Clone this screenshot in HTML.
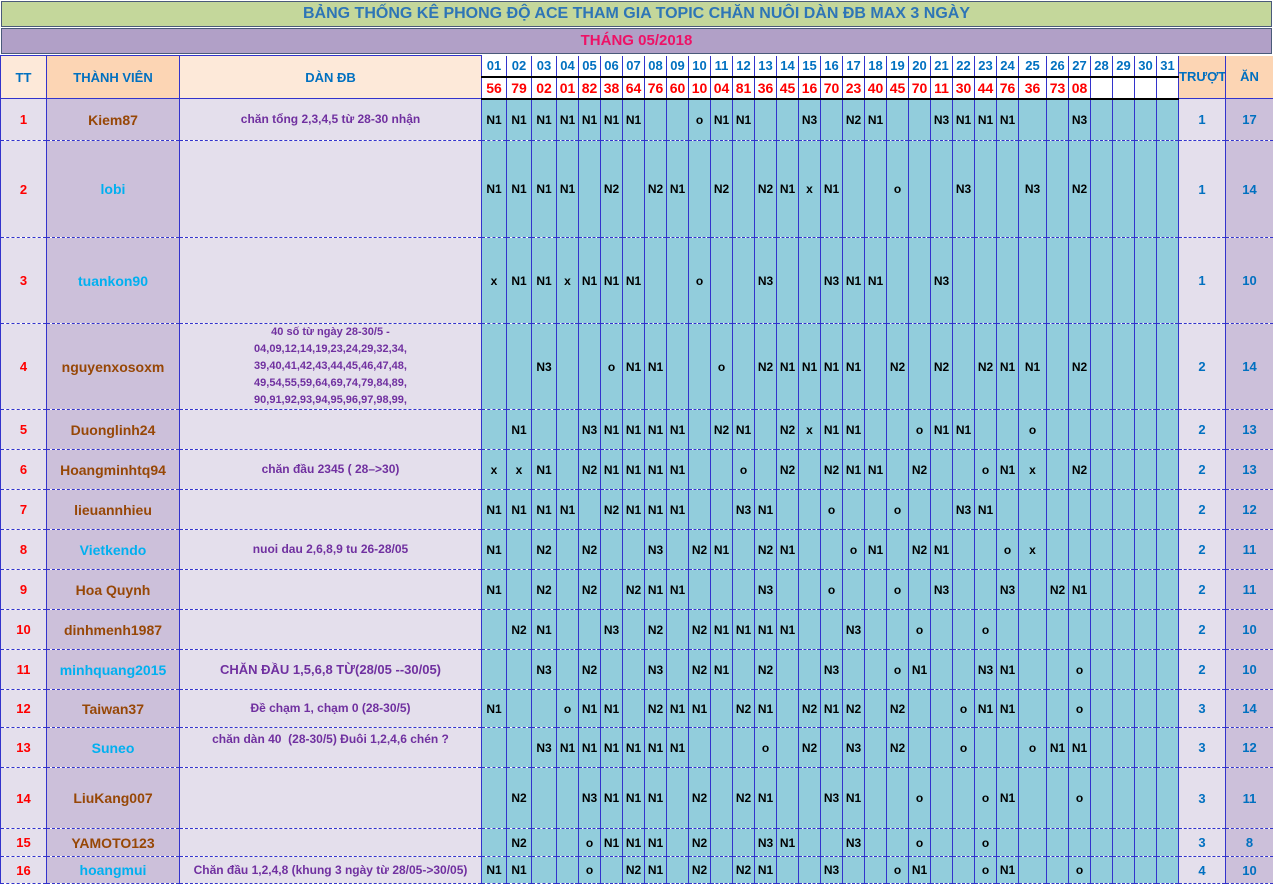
<!DOCTYPE html>
<html><head><meta charset="utf-8"><style>
*{margin:0;padding:0;box-sizing:border-box}
body{width:1273px;height:882px;background:#fff;position:relative;overflow:hidden;font-family:"Liberation Sans","DejaVu Sans",sans-serif;font-weight:bold}
.bar{position:absolute;left:1px;width:1271px;text-align:center;border:1px solid #4a5a7a}
#t1{top:1px;height:26px;background:#c4d79b;color:#2e75b6;font-size:16px;line-height:24px}
#t2{top:28px;height:26px;background:#b1a0c7;color:#ee1166;font-size:15px;line-height:24px}
table{position:absolute;left:0;top:55px;border-collapse:collapse;table-layout:fixed;width:1273px}
td{border-left:1px solid #3333cc;border-right:1px solid #3333cc;border-bottom:1px dashed #3333cc;text-align:center;vertical-align:middle;padding:0;overflow:hidden;white-space:nowrap}
.c0{background:#e4dfec;color:#ff0000;font-size:13px}
.c1{background:#ccc0da;font-size:14px}
.c2{background:#e4dfec;color:#7030a0;font-size:12px;white-space:normal;line-height:17px}
.t{background:#e4dfec;color:#0070c0;font-size:13px}
.a{background:#ccc0da;color:#0070c0;font-size:13px}
tr.r td.x{background:#92cddc;color:#000;font-size:12px}
.br{color:#974706}.bl{color:#00b0f0}
.hd td{color:#0070c0;font-size:13px}
.dh{background:#fff;color:#0070c0;font-size:13px;border-bottom:2px solid #000 !important}
.dn{background:#fff;color:#ff0000;font-size:14px;border-bottom:2px solid #000 !important}
</style></head><body>
<div class="bar" id="t1">BẢNG THỐNG KÊ PHONG ĐỘ ACE THAM GIA TOPIC CHĂN NUÔI DÀN ĐB MAX 3 NGÀY</div>
<div class="bar" id="t2">THÁNG 05/2018</div>
<table>
<colgroup><col style="width:46px"><col style="width:133px"><col style="width:302px">
<col style="width:25px"><col style="width:25px"><col style="width:25px">
<col style="width:22px"><col style="width:22px"><col style="width:22px"><col style="width:22px"><col style="width:22px"><col style="width:22px"><col style="width:22px"><col style="width:22px"><col style="width:22px"><col style="width:22px"><col style="width:22px"><col style="width:22px"><col style="width:22px"><col style="width:22px"><col style="width:22px"><col style="width:22px"><col style="width:22px"><col style="width:22px"><col style="width:22px"><col style="width:22px"><col style="width:22px">
<col style="width:28px">
<col style="width:22px"><col style="width:22px"><col style="width:22px"><col style="width:22px"><col style="width:22px"><col style="width:22px">
<col style="width:47px"><col style="width:48px"></colgroup>
<tr style="height:21px" class="hd">
<td rowspan="2" style="background:#fde9d9;border-top:1px solid #3333cc;border-bottom:1px solid #3333cc">TT</td>
<td rowspan="2" style="background:#fcd5b4;border-top:1px solid #3333cc;border-bottom:1px solid #3333cc">THÀNH VIÊN</td>
<td rowspan="2" style="background:#fde9d9;border-top:1px solid #3333cc;border-bottom:1px solid #3333cc">DÀN ĐB</td>
<td class="dh">01</td><td class="dh">02</td><td class="dh">03</td><td class="dh">04</td><td class="dh">05</td><td class="dh">06</td><td class="dh">07</td><td class="dh">08</td><td class="dh">09</td><td class="dh">10</td><td class="dh">11</td><td class="dh">12</td><td class="dh">13</td><td class="dh">14</td><td class="dh">15</td><td class="dh">16</td><td class="dh">17</td><td class="dh">18</td><td class="dh">19</td><td class="dh">20</td><td class="dh">21</td><td class="dh">22</td><td class="dh">23</td><td class="dh">24</td><td class="dh">25</td><td class="dh">26</td><td class="dh">27</td><td class="dh">28</td><td class="dh">29</td><td class="dh">30</td><td class="dh">31</td>
<td rowspan="2" style="background:#fcd5b4;border-bottom:1px solid #3333cc">TRƯỢT</td>
<td rowspan="2" style="background:#fcd5b4;border-bottom:1px solid #3333cc">ĂN</td>
</tr>
<tr style="height:22px">
<td class="dn">56</td><td class="dn">79</td><td class="dn">02</td><td class="dn">01</td><td class="dn">82</td><td class="dn">38</td><td class="dn">64</td><td class="dn">76</td><td class="dn">60</td><td class="dn">10</td><td class="dn">04</td><td class="dn">81</td><td class="dn">36</td><td class="dn">45</td><td class="dn">16</td><td class="dn">70</td><td class="dn">23</td><td class="dn">40</td><td class="dn">45</td><td class="dn">70</td><td class="dn">11</td><td class="dn">30</td><td class="dn">44</td><td class="dn">76</td><td class="dn">36</td><td class="dn">73</td><td class="dn">08</td><td class="dn"></td><td class="dn"></td><td class="dn"></td><td class="dn"></td>
</tr>
<tr class="r" style="height:42px"><td class="c0">1</td><td class="c1 br">Kiem87</td><td class="c2">chăn tổng 2,3,4,5 từ 28-30 nhận</td>
<td class="x">N1</td><td class="x">N1</td><td class="x">N1</td><td class="x">N1</td><td class="x">N1</td><td class="x">N1</td><td class="x">N1</td><td class="x"></td><td class="x"></td><td class="x">o</td><td class="x">N1</td><td class="x">N1</td><td class="x"></td><td class="x"></td><td class="x">N3</td><td class="x"></td><td class="x">N2</td><td class="x">N1</td><td class="x"></td><td class="x"></td><td class="x">N3</td><td class="x">N1</td><td class="x">N1</td><td class="x">N1</td><td class="x"></td><td class="x"></td><td class="x">N3</td><td class="x"></td><td class="x"></td><td class="x"></td><td class="x"></td>
<td class="t">1</td><td class="a">17</td></tr>
<tr class="r" style="height:97px"><td class="c0">2</td><td class="c1 bl">lobi</td><td class="c2"></td>
<td class="x">N1</td><td class="x">N1</td><td class="x">N1</td><td class="x">N1</td><td class="x"></td><td class="x">N2</td><td class="x"></td><td class="x">N2</td><td class="x">N1</td><td class="x"></td><td class="x">N2</td><td class="x"></td><td class="x">N2</td><td class="x">N1</td><td class="x">x</td><td class="x">N1</td><td class="x"></td><td class="x"></td><td class="x">o</td><td class="x"></td><td class="x"></td><td class="x">N3</td><td class="x"></td><td class="x"></td><td class="x">N3</td><td class="x"></td><td class="x">N2</td><td class="x"></td><td class="x"></td><td class="x"></td><td class="x"></td>
<td class="t">1</td><td class="a">14</td></tr>
<tr class="r" style="height:86px"><td class="c0">3</td><td class="c1 bl">tuankon90</td><td class="c2"></td>
<td class="x">x</td><td class="x">N1</td><td class="x">N1</td><td class="x">x</td><td class="x">N1</td><td class="x">N1</td><td class="x">N1</td><td class="x"></td><td class="x"></td><td class="x">o</td><td class="x"></td><td class="x"></td><td class="x">N3</td><td class="x"></td><td class="x"></td><td class="x">N3</td><td class="x">N1</td><td class="x">N1</td><td class="x"></td><td class="x"></td><td class="x">N3</td><td class="x"></td><td class="x"></td><td class="x"></td><td class="x"></td><td class="x"></td><td class="x"></td><td class="x"></td><td class="x"></td><td class="x"></td><td class="x"></td>
<td class="t">1</td><td class="a">10</td></tr>
<tr class="r" style="height:85px"><td class="c0">4</td><td class="c1 br">nguyenxosoxm</td><td class="c2" style="font-size:11px">40 số từ ngày 28-30/5 -<br>04,09,12,14,19,23,24,29,32,34,<br>39,40,41,42,43,44,45,46,47,48,<br>49,54,55,59,64,69,74,79,84,89,<br>90,91,92,93,94,95,96,97,98,99,</td>
<td class="x"></td><td class="x"></td><td class="x">N3</td><td class="x"></td><td class="x"></td><td class="x">o</td><td class="x">N1</td><td class="x">N1</td><td class="x"></td><td class="x"></td><td class="x">o</td><td class="x"></td><td class="x">N2</td><td class="x">N1</td><td class="x">N1</td><td class="x">N1</td><td class="x">N1</td><td class="x"></td><td class="x">N2</td><td class="x"></td><td class="x">N2</td><td class="x"></td><td class="x">N2</td><td class="x">N1</td><td class="x">N1</td><td class="x"></td><td class="x">N2</td><td class="x"></td><td class="x"></td><td class="x"></td><td class="x"></td>
<td class="t">2</td><td class="a">14</td></tr>
<tr class="r" style="height:40px"><td class="c0">5</td><td class="c1 br">Duonglinh24</td><td class="c2"></td>
<td class="x"></td><td class="x">N1</td><td class="x"></td><td class="x"></td><td class="x">N3</td><td class="x">N1</td><td class="x">N1</td><td class="x">N1</td><td class="x">N1</td><td class="x"></td><td class="x">N2</td><td class="x">N1</td><td class="x"></td><td class="x">N2</td><td class="x">x</td><td class="x">N1</td><td class="x">N1</td><td class="x"></td><td class="x"></td><td class="x">o</td><td class="x">N1</td><td class="x">N1</td><td class="x"></td><td class="x"></td><td class="x">o</td><td class="x"></td><td class="x"></td><td class="x"></td><td class="x"></td><td class="x"></td><td class="x"></td>
<td class="t">2</td><td class="a">13</td></tr>
<tr class="r" style="height:40px"><td class="c0">6</td><td class="c1 br">Hoangminhtq94</td><td class="c2">chăn đầu 2345 ( 28–&gt;30)</td>
<td class="x">x</td><td class="x">x</td><td class="x">N1</td><td class="x"></td><td class="x">N2</td><td class="x">N1</td><td class="x">N1</td><td class="x">N1</td><td class="x">N1</td><td class="x"></td><td class="x"></td><td class="x">o</td><td class="x"></td><td class="x">N2</td><td class="x"></td><td class="x">N2</td><td class="x">N1</td><td class="x">N1</td><td class="x"></td><td class="x">N2</td><td class="x"></td><td class="x"></td><td class="x">o</td><td class="x">N1</td><td class="x">x</td><td class="x"></td><td class="x">N2</td><td class="x"></td><td class="x"></td><td class="x"></td><td class="x"></td>
<td class="t">2</td><td class="a">13</td></tr>
<tr class="r" style="height:40px"><td class="c0">7</td><td class="c1 br">lieuannhieu</td><td class="c2"></td>
<td class="x">N1</td><td class="x">N1</td><td class="x">N1</td><td class="x">N1</td><td class="x"></td><td class="x">N2</td><td class="x">N1</td><td class="x">N1</td><td class="x">N1</td><td class="x"></td><td class="x"></td><td class="x">N3</td><td class="x">N1</td><td class="x"></td><td class="x"></td><td class="x">o</td><td class="x"></td><td class="x"></td><td class="x">o</td><td class="x"></td><td class="x"></td><td class="x">N3</td><td class="x">N1</td><td class="x"></td><td class="x"></td><td class="x"></td><td class="x"></td><td class="x"></td><td class="x"></td><td class="x"></td><td class="x"></td>
<td class="t">2</td><td class="a">12</td></tr>
<tr class="r" style="height:40px"><td class="c0">8</td><td class="c1 bl">Vietkendo</td><td class="c2">nuoi dau 2,6,8,9 tu 26-28/05</td>
<td class="x">N1</td><td class="x"></td><td class="x">N2</td><td class="x"></td><td class="x">N2</td><td class="x"></td><td class="x"></td><td class="x">N3</td><td class="x"></td><td class="x">N2</td><td class="x">N1</td><td class="x"></td><td class="x">N2</td><td class="x">N1</td><td class="x"></td><td class="x"></td><td class="x">o</td><td class="x">N1</td><td class="x"></td><td class="x">N2</td><td class="x">N1</td><td class="x"></td><td class="x"></td><td class="x">o</td><td class="x">x</td><td class="x"></td><td class="x"></td><td class="x"></td><td class="x"></td><td class="x"></td><td class="x"></td>
<td class="t">2</td><td class="a">11</td></tr>
<tr class="r" style="height:40px"><td class="c0">9</td><td class="c1 br">Hoa Quynh</td><td class="c2"></td>
<td class="x">N1</td><td class="x"></td><td class="x">N2</td><td class="x"></td><td class="x">N2</td><td class="x"></td><td class="x">N2</td><td class="x">N1</td><td class="x">N1</td><td class="x"></td><td class="x"></td><td class="x"></td><td class="x">N3</td><td class="x"></td><td class="x"></td><td class="x">o</td><td class="x"></td><td class="x"></td><td class="x">o</td><td class="x"></td><td class="x">N3</td><td class="x"></td><td class="x"></td><td class="x">N3</td><td class="x"></td><td class="x">N2</td><td class="x">N1</td><td class="x"></td><td class="x"></td><td class="x"></td><td class="x"></td>
<td class="t">2</td><td class="a">11</td></tr>
<tr class="r" style="height:40px"><td class="c0">10</td><td class="c1 br">dinhmenh1987</td><td class="c2"></td>
<td class="x"></td><td class="x">N2</td><td class="x">N1</td><td class="x"></td><td class="x"></td><td class="x">N3</td><td class="x"></td><td class="x">N2</td><td class="x"></td><td class="x">N2</td><td class="x">N1</td><td class="x">N1</td><td class="x">N1</td><td class="x">N1</td><td class="x"></td><td class="x"></td><td class="x">N3</td><td class="x"></td><td class="x"></td><td class="x">o</td><td class="x"></td><td class="x"></td><td class="x">o</td><td class="x"></td><td class="x"></td><td class="x"></td><td class="x"></td><td class="x"></td><td class="x"></td><td class="x"></td><td class="x"></td>
<td class="t">2</td><td class="a">10</td></tr>
<tr class="r" style="height:40px"><td class="c0">11</td><td class="c1 bl">minhquang2015</td><td class="c2" style="font-size:13px">CHĂN ĐẦU 1,5,6,8 TỪ(28/05 --30/05)</td>
<td class="x"></td><td class="x"></td><td class="x">N3</td><td class="x"></td><td class="x">N2</td><td class="x"></td><td class="x"></td><td class="x">N3</td><td class="x"></td><td class="x">N2</td><td class="x">N1</td><td class="x"></td><td class="x">N2</td><td class="x"></td><td class="x"></td><td class="x">N3</td><td class="x"></td><td class="x"></td><td class="x">o</td><td class="x">N1</td><td class="x"></td><td class="x"></td><td class="x">N3</td><td class="x">N1</td><td class="x"></td><td class="x"></td><td class="x">o</td><td class="x"></td><td class="x"></td><td class="x"></td><td class="x"></td>
<td class="t">2</td><td class="a">10</td></tr>
<tr class="r" style="height:38px"><td class="c0">12</td><td class="c1 br">Taiwan37</td><td class="c2">Đề chạm 1, chạm 0 (28-30/5)</td>
<td class="x">N1</td><td class="x"></td><td class="x"></td><td class="x">o</td><td class="x">N1</td><td class="x">N1</td><td class="x"></td><td class="x">N2</td><td class="x">N1</td><td class="x">N1</td><td class="x"></td><td class="x">N2</td><td class="x">N1</td><td class="x"></td><td class="x">N2</td><td class="x">N1</td><td class="x">N2</td><td class="x"></td><td class="x">N2</td><td class="x"></td><td class="x"></td><td class="x">o</td><td class="x">N1</td><td class="x">N1</td><td class="x"></td><td class="x"></td><td class="x">o</td><td class="x"></td><td class="x"></td><td class="x"></td><td class="x"></td>
<td class="t">3</td><td class="a">14</td></tr>
<tr class="r" style="height:40px"><td class="c0">13</td><td class="c1 bl">Suneo</td><td class="c2" style="vertical-align:top;padding-top:3px">chăn dàn 40&nbsp; (28-30/5) Đuôi 1,2,4,6 chén ?</td>
<td class="x"></td><td class="x"></td><td class="x">N3</td><td class="x">N1</td><td class="x">N1</td><td class="x">N1</td><td class="x">N1</td><td class="x">N1</td><td class="x">N1</td><td class="x"></td><td class="x"></td><td class="x"></td><td class="x">o</td><td class="x"></td><td class="x">N2</td><td class="x"></td><td class="x">N3</td><td class="x"></td><td class="x">N2</td><td class="x"></td><td class="x"></td><td class="x">o</td><td class="x"></td><td class="x"></td><td class="x">o</td><td class="x">N1</td><td class="x">N1</td><td class="x"></td><td class="x"></td><td class="x"></td><td class="x"></td>
<td class="t">3</td><td class="a">12</td></tr>
<tr class="r" style="height:61px"><td class="c0">14</td><td class="c1 br">LiuKang007</td><td class="c2"></td>
<td class="x"></td><td class="x">N2</td><td class="x"></td><td class="x"></td><td class="x">N3</td><td class="x">N1</td><td class="x">N1</td><td class="x">N1</td><td class="x"></td><td class="x">N2</td><td class="x"></td><td class="x">N2</td><td class="x">N1</td><td class="x"></td><td class="x"></td><td class="x">N3</td><td class="x">N1</td><td class="x"></td><td class="x"></td><td class="x">o</td><td class="x"></td><td class="x"></td><td class="x">o</td><td class="x">N1</td><td class="x"></td><td class="x"></td><td class="x">o</td><td class="x"></td><td class="x"></td><td class="x"></td><td class="x"></td>
<td class="t">3</td><td class="a">11</td></tr>
<tr class="r" style="height:28px"><td class="c0">15</td><td class="c1 br">YAMOTO123</td><td class="c2"></td>
<td class="x"></td><td class="x">N2</td><td class="x"></td><td class="x"></td><td class="x">o</td><td class="x">N1</td><td class="x">N1</td><td class="x">N1</td><td class="x"></td><td class="x">N2</td><td class="x"></td><td class="x"></td><td class="x">N3</td><td class="x">N1</td><td class="x"></td><td class="x"></td><td class="x">N3</td><td class="x"></td><td class="x"></td><td class="x">o</td><td class="x"></td><td class="x"></td><td class="x">o</td><td class="x"></td><td class="x"></td><td class="x"></td><td class="x"></td><td class="x"></td><td class="x"></td><td class="x"></td><td class="x"></td>
<td class="t">3</td><td class="a">8</td></tr>
<tr class="r" style="height:27px"><td class="c0">16</td><td class="c1 bl">hoangmui</td><td class="c2">Chăn đầu 1,2,4,8 (khung 3 ngày từ 28/05-&gt;30/05)</td>
<td class="x">N1</td><td class="x">N1</td><td class="x"></td><td class="x"></td><td class="x">o</td><td class="x"></td><td class="x">N2</td><td class="x">N1</td><td class="x"></td><td class="x">N2</td><td class="x"></td><td class="x">N2</td><td class="x">N1</td><td class="x"></td><td class="x"></td><td class="x">N3</td><td class="x"></td><td class="x"></td><td class="x">o</td><td class="x">N1</td><td class="x"></td><td class="x"></td><td class="x">o</td><td class="x">N1</td><td class="x"></td><td class="x"></td><td class="x">o</td><td class="x"></td><td class="x"></td><td class="x"></td><td class="x"></td>
<td class="t">4</td><td class="a">10</td></tr>
</table>
</body></html>
